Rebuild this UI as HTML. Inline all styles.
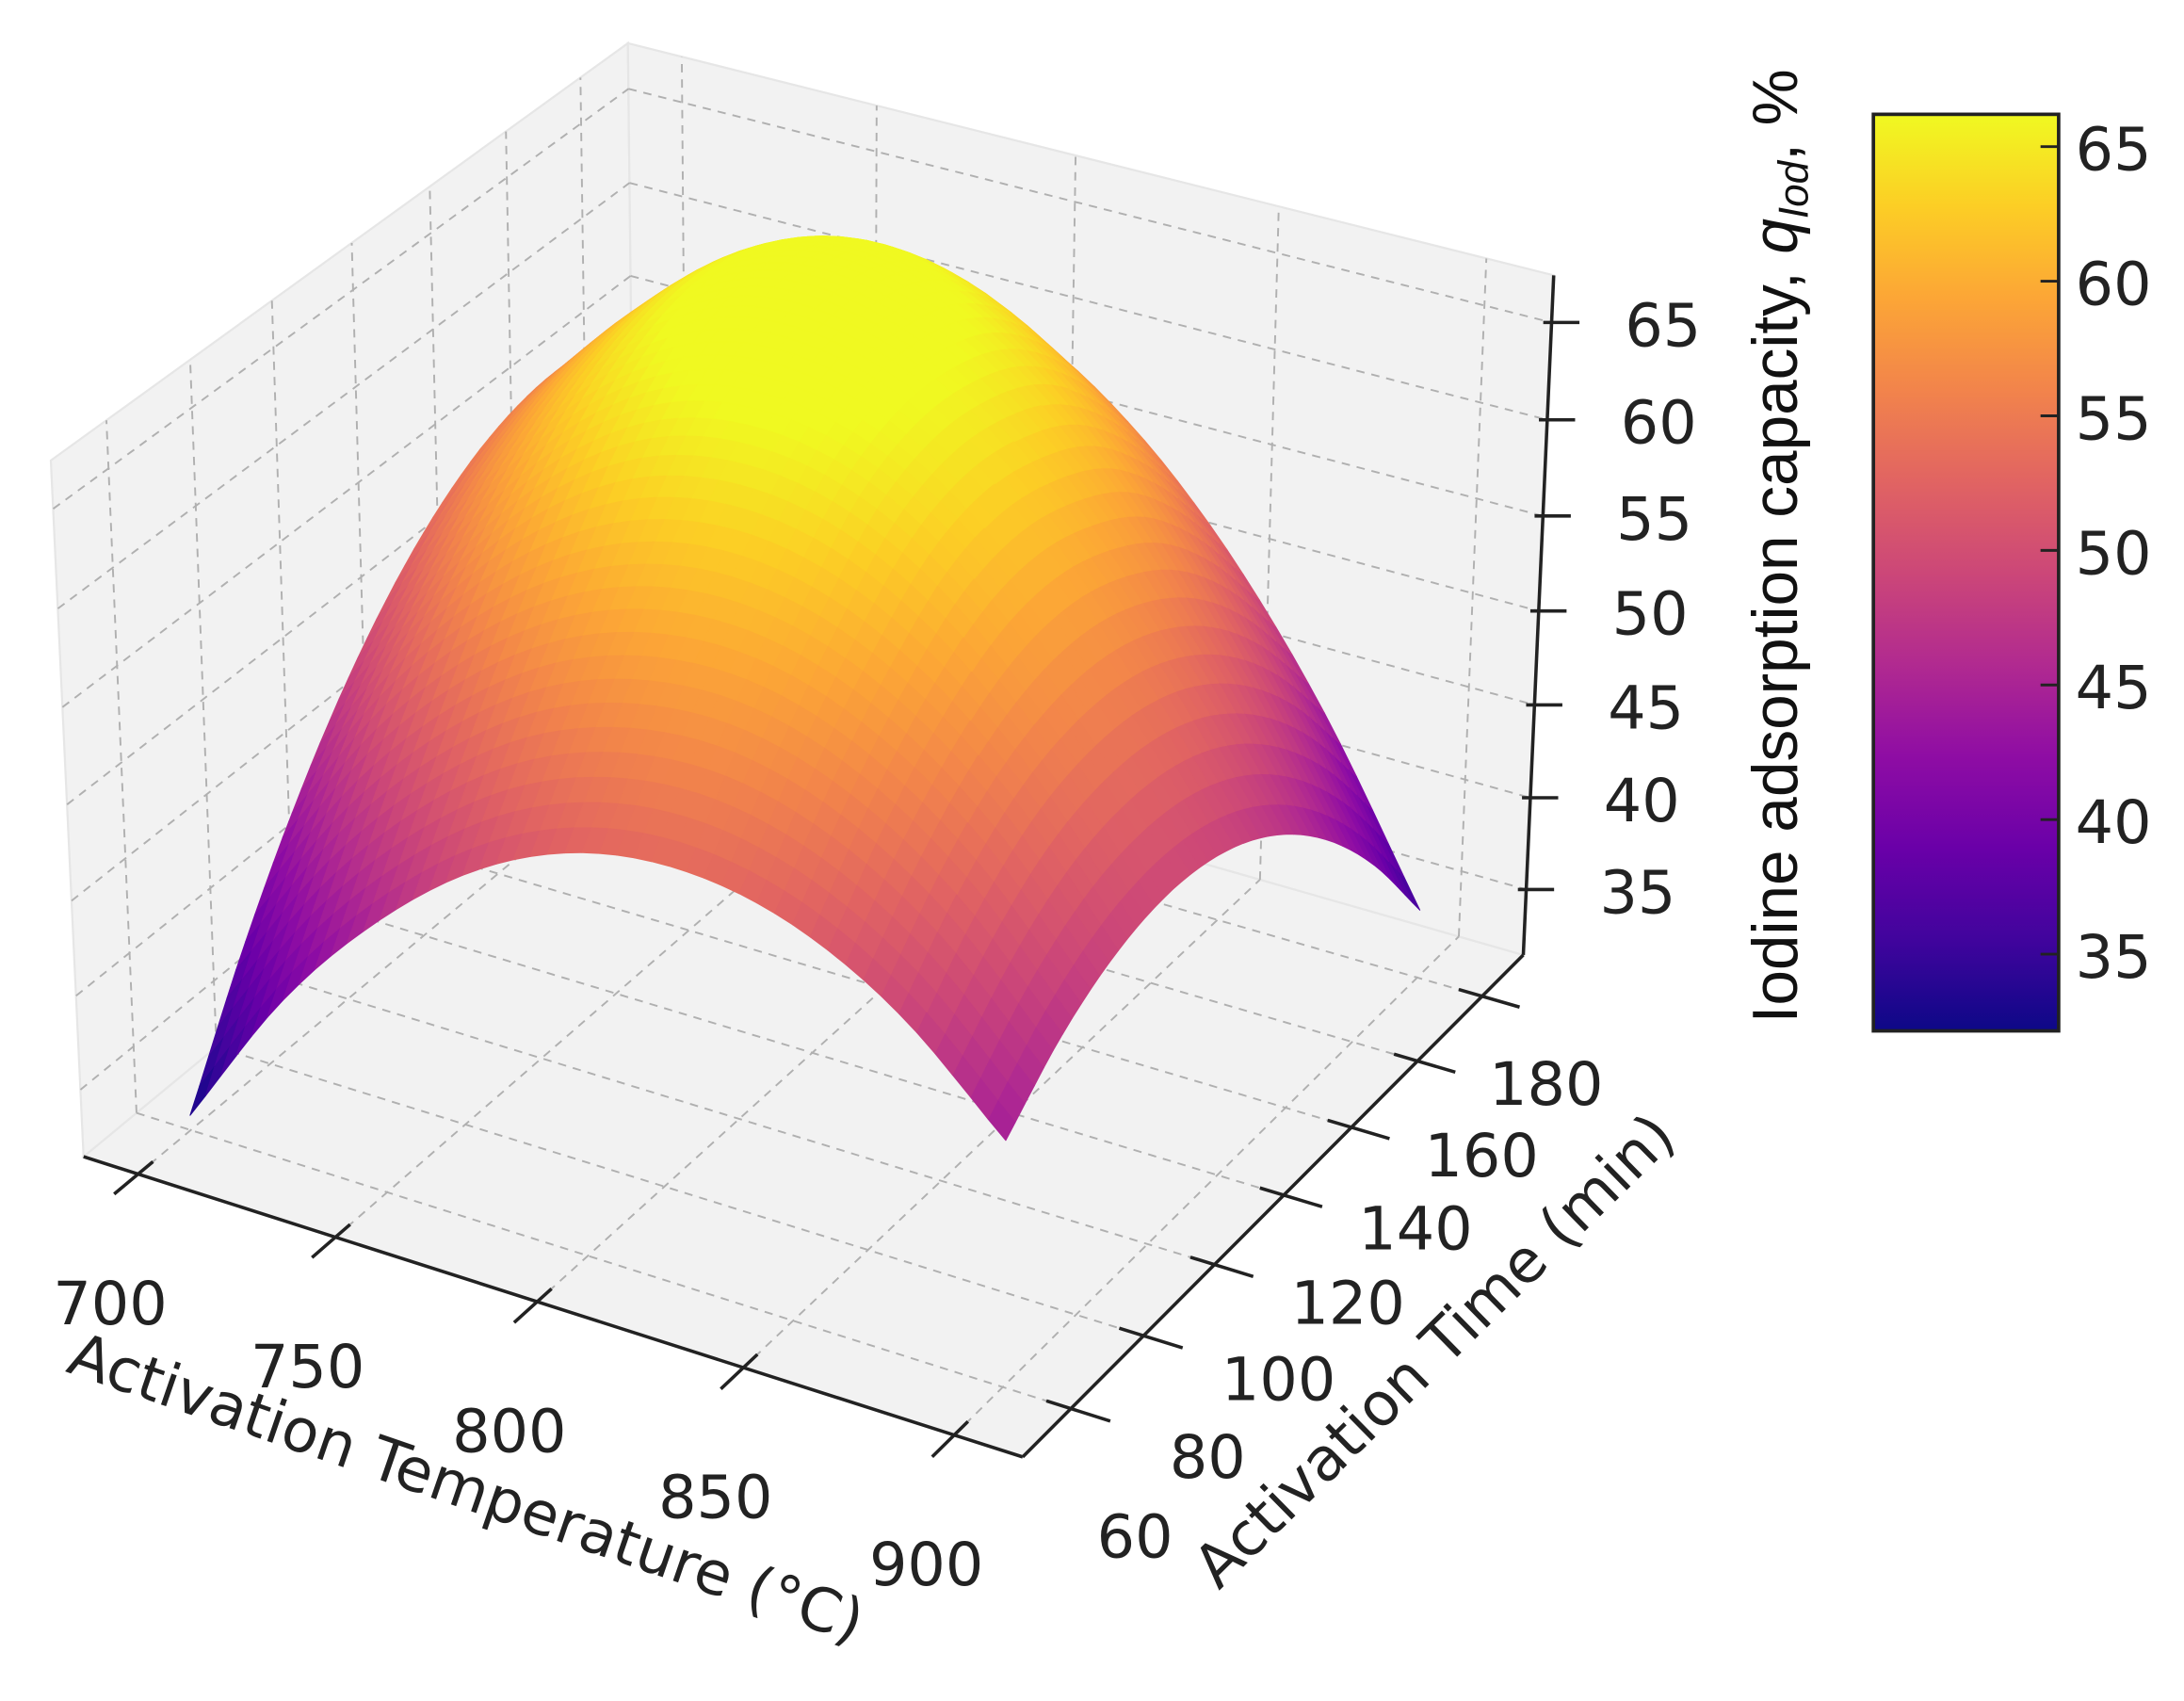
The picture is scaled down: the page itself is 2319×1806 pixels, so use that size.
<!DOCTYPE html>
<html><head><meta charset="utf-8"><style>
html,body{margin:0;padding:0;background:#fff;}
svg{display:block;}
.tk{font-family:"DejaVu Sans","Liberation Sans",sans-serif;font-size:43px;fill:#222;}
</style></head><body>
<svg id="chart" width="2319" height="1806" viewBox="0 0 1568 1221" xmlns="http://www.w3.org/2000/svg">
<defs>
<linearGradient id="cbgrad" x1="0" y1="1" x2="0" y2="0">
<stop offset="0" stop-color="#0d0887"/><stop offset="0.1" stop-color="#41049d"/><stop offset="0.2" stop-color="#6a00a8"/><stop offset="0.3" stop-color="#8f0da4"/><stop offset="0.4" stop-color="#b12a90"/><stop offset="0.5" stop-color="#cc4778"/><stop offset="0.6" stop-color="#e16462"/><stop offset="0.7" stop-color="#f2844b"/><stop offset="0.8" stop-color="#fca636"/><stop offset="0.9" stop-color="#fcce25"/><stop offset="1" stop-color="#f0f921"/>
</linearGradient>
</defs>
<g id="panes"></g>
<g id="grid"></g>
<g id="axes"></g>
<g id="surface"></g>
<g id="labels"></g>
<text class="tk" font-size="42" text-anchor="middle" transform="translate(330,1082) rotate(19)">Activation Temperature (°C)</text>
<text class="tk" font-size="42" text-anchor="middle" transform="translate(1040,980) rotate(-44.5)">Activation Time (min)</text>
<text font-family="Liberation Sans Narrow, Liberation Sans, sans-serif" font-size="46" fill="#111" text-anchor="middle" textLength="685" lengthAdjust="spacingAndGlyphs" transform="translate(1290,392) rotate(-90)">Iodine adsorption capacity, <tspan font-style="italic">q</tspan><tspan font-style="italic" font-size="30" dy="8">Iod</tspan><tspan dy="-8">, %</tspan></text>
<g>
<rect x="1345" y="82" width="133" height="658" fill="url(#cbgrad)" stroke="#222" stroke-width="2.5"/>
<g id="cbticks"></g>
</g>
</svg>
<script>
const T_VALUES=[700,725,750,775,800,825,850,875,900];
const TIME_VALUES=[60,75,90,105,120,135,150,165,180];
const Z_ROW_60=[32.2,40.0,45.8,50.0,52.4,53.0,51.9,49.0,44.2];
const Z_ROW_75=[38.88,46.2,51.7,55.5,57.4,57.6,55.9,52.4,46.93];
const Z_ROW_90=[44.46,51.67,56.96,60.34,61.81,61.37,59.01,54.74,48.56];
const Z_ROW_105=[48.94,55.65,61.2,64.6,65.6,64.5,61.2,55.76,49.09];
const Z_ROW_120=[52.3,58.8,64.2,67.2,67.6,65.8,61.8,55.67,48.5];
const Z_ROW_135=[54.56,60.6,65.6,68.2,68.0,65.6,61.0,54.47,46.81];
const Z_ROW_150=[55.71,61.2,65.6,67.8,67.2,64.2,59.2,52.17,44.01];
const Z_ROW_165=[55.76,60.6,64.2,65.6,64.6,61.2,55.9,48.76,40.11];
const Z_ROW_180=[54.7,58.94,61.28,61.69,60.2,56.79,51.48,44.24,35.1];
const Z_GRID=[Z_ROW_60,Z_ROW_75,Z_ROW_90,Z_ROW_105,Z_ROW_120,Z_ROW_135,Z_ROW_150,Z_ROW_165,Z_ROW_180];
const T_TICKS=[700,750,800,850,900];
const TIME_TICKS=[60,80,100,120,140,160,180];
const Z_TICKS=[35,40,45,50,55,60,65];
const CB_TICKS=[35,40,45,50,55,60,65];
const TLIM=[686,916], TIMELIM=[47,193], ZLIM=[31.4,67.4], CLIM=[32.15,66.2];

const NS='http://www.w3.org/2000/svg';
function mk(tag,attrs,parent){const e=document.createElementNS(NS,tag);for(const k in attrs)e.setAttribute(k,attrs[k]);parent.appendChild(e);return e;}
function proj(T,t,z){
  const X=(T-TLIM[0])/(TLIM[1]-TLIM[0])*1.143, Y=(t-TIMELIM[0])/(TIMELIM[1]-TIMELIM[0])*1.143, Z=(z-ZLIM[0])/(ZLIM[1]-ZLIM[0])*0.857;
  const dx=X-0.5715, dy=Y-0.5715, dz=Z-0.4285;
  const r=0.866*dx+0.5*dy, u=-0.25*dx+0.433*dy+0.866*dz, d=0.433*dx-0.75*dy+0.5*dz;
  return [586+6760*r/(10-d), 515-6650*u/(10-d), d];
}
const PL=[[13,8,135],[65,4,157],[106,0,168],[143,13,164],[177,42,144],[204,71,120],[225,100,98],[242,132,75],[252,166,54],[252,206,37],[240,249,33]];
function plasma(v){let s=Math.max(0,Math.min(1,(v-CLIM[0])/(CLIM[1]-CLIM[0])))*10;const i=Math.min(9,Math.floor(s)),f=s-i;const a=PL[i],b=PL[i+1];return 'rgb('+a.map((c,k)=>Math.round(c+(b[k]-c)*f)).join(',')+')';}
function pts(arr){return arr.map(p=>p[0].toFixed(1)+','+p[1].toFixed(1)).join(' ');}

const gP=document.getElementById('panes');
const tl=TLIM, ml=TIMELIM, zl=ZLIM;
const floor=[proj(tl[0],ml[0],zl[0]),proj(tl[1],ml[0],zl[0]),proj(tl[1],ml[1],zl[0]),proj(tl[0],ml[1],zl[0])];
const left=[proj(tl[0],ml[0],zl[0]),proj(tl[0],ml[1],zl[0]),proj(tl[0],ml[1],zl[1]),proj(tl[0],ml[0],zl[1])];
const back=[proj(tl[0],ml[1],zl[0]),proj(tl[1],ml[1],zl[0]),proj(tl[1],ml[1],zl[1]),proj(tl[0],ml[1],zl[1])];
[[floor,'floor-pane'],[left,'left-pane'],[back,'back-pane']].forEach(([p,n])=>{
  const e=mk('polygon',{points:pts(p),fill:'#f2f2f2',stroke:'#e6e6e6','stroke-width':1.5},gP);
  
  
});
const gG=document.getElementById('grid');
function gl(a,b,name){const e=mk('line',{x1:a[0],y1:a[1],x2:b[0],y2:b[1],stroke:'#b0b0b0','stroke-width':1.3,'stroke-dasharray':'6,5'},gG);
  
  }
T_TICKS.forEach(T=>{gl(proj(T,ml[0],zl[0]),proj(T,ml[1],zl[0]),'grid-temperature');gl(proj(T,ml[1],zl[0]),proj(T,ml[1],zl[1]),'grid-temperature');});
TIME_TICKS.forEach(t=>{gl(proj(tl[0],t,zl[0]),proj(tl[1],t,zl[0]),'grid-time');gl(proj(tl[0],t,zl[0]),proj(tl[0],t,zl[1]),'grid-time');});
Z_TICKS.forEach(z=>{gl(proj(tl[0],ml[0],z),proj(tl[0],ml[1],z),'grid-z');gl(proj(tl[0],ml[1],z),proj(tl[1],ml[1],z),'grid-z');});
const gA=document.getElementById('axes');
function al(a,b,name){const e=mk('line',{x1:a[0],y1:a[1],x2:b[0],y2:b[1],stroke:'#222','stroke-width':2.4},gA);
  
  }
al(proj(tl[0],ml[0],zl[0]),proj(tl[1],ml[0],zl[0]),'x-axis-line');
al(proj(tl[1],ml[0],zl[0]),proj(tl[1],ml[1],zl[0]),'y-axis-line');
al(proj(tl[1],ml[1],zl[0]),proj(tl[1],ml[1],zl[1]),'z-axis-line');
const gL=document.getElementById('labels');
const TR=tl[1]-tl[0], MR=ml[1]-ml[0];
T_TICKS.forEach(T=>{
  al(proj(T,ml[0]+0.025*MR,zl[0]),proj(T,ml[0]-0.04*MR,zl[0]),'x-tick');
  const p=proj(T,ml[0],zl[0]);
  const e=mk('text',{x:p[0]-20,y:p[1]+93,'text-anchor':'middle','dominant-baseline':'central',class:'tk'},gL);e.textContent=T;
  
  
});
TIME_TICKS.forEach((t,i)=>{
  al(proj(tl[1]-0.025*TR,t,zl[0]),proj(tl[1]+0.04*TR,t,zl[0]),'y-tick');
  const p=proj(tl[1],t,zl[0]);const f=i/(TIME_TICKS.length-1);
  const e=mk('text',{x:p[0]+46,y:p[1]+92-29*f,'text-anchor':'middle','dominant-baseline':'central',class:'tk'},gL);e.textContent=t;
  
  
});
Z_TICKS.forEach(z=>{
  const p=proj(tl[1],ml[1],z);
  al([p[0]-6,p[1]],[p[0]+20,p[1]],'z-tick');
  const e=mk('text',{x:p[0]+80,y:p[1]+2,'text-anchor':'middle','dominant-baseline':'central',class:'tk'},gL);e.textContent=z;
  
  
});
function cr(p0,p1,p2,p3,s){return 0.5*((2*p1)+(-p0+p2)*s+(2*p0-5*p1+4*p2-p3)*s*s+(-p0+3*p1-3*p2+p3)*s*s*s);}
function g(i,j){const n=Z_GRID.length,m=Z_GRID[0].length;
  let ci=Math.max(0,Math.min(n-1,i)),cj=Math.max(0,Math.min(m-1,j));
  let v=Z_GRID[ci][cj];
  if(i<0)v=2*Z_GRID[0][cj]-Z_GRID[1][cj]; if(i>n-1)v=2*Z_GRID[n-1][cj]-Z_GRID[n-2][cj];
  if(j<0)v=2*Z_GRID[ci][0]-Z_GRID[ci][1]; if(j>m-1)v=2*Z_GRID[ci][m-1]-Z_GRID[ci][m-2];
  return v;}
function zAt(fi,fj){const i=Math.min(Math.floor(fi),Z_GRID.length-2),j=Math.min(Math.floor(fj),Z_GRID[0].length-2);const si=fi-i,sj=fj-j;
  const rows=[-1,0,1,2].map(a=>cr(g(i+a,j-1),g(i+a,j),g(i+a,j+1),g(i+a,j+2),sj));
  return cr(rows[0],rows[1],rows[2],rows[3],si);}
const SUB=6, NI=(TIME_VALUES.length-1)*SUB, NJ=(T_VALUES.length-1)*SUB;
const P=[];
for(let a=0;a<=NI;a++){P.push([]);for(let b=0;b<=NJ;b++){
  const fi=a/SUB,fj=b/SUB;const z=zAt(fi,fj);
  const ii=Math.min(Math.floor(fi),TIME_VALUES.length-2),jj=Math.min(Math.floor(fj),T_VALUES.length-2);
  const t=TIME_VALUES[ii]+(TIME_VALUES[ii+1]-TIME_VALUES[ii])*(fi-ii);
  const T=T_VALUES[jj]+(T_VALUES[jj+1]-T_VALUES[jj])*(fj-jj);
  const p=proj(T,t,z);P[a].push([p[0],p[1],p[2],z]);}}
const quads=[];
for(let a=0;a<NI;a++)for(let b=0;b<NJ;b++){
  const q=[P[a][b],P[a][b+1],P[a+1][b+1],P[a+1][b]];
  quads.push({q,d:(q[0][2]+q[1][2]+q[2][2]+q[3][2])/4,z:(q[0][3]+q[1][3]+q[2][3]+q[3][3])/4});}
quads.sort((x,y)=>x.d-y.d);
const gS=document.getElementById('surface');
quads.forEach(o=>{const c=plasma(o.z);
  const e=mk('polygon',{points:pts(o.q),fill:c,stroke:c,'stroke-width':0.7,'stroke-linejoin':'round'},gS);
  
  
});
const gC=document.getElementById('cbticks');
CB_TICKS.forEach(v=>{const y=740-(v-CLIM[0])/(CLIM[1]-CLIM[0])*658;
  const l=mk('line',{x1:1465,y1:y,x2:1478,y2:y,stroke:'#222','stroke-width':2},gC);
  
  
  const e=mk('text',{x:1490,y:y+2,'dominant-baseline':'central',class:'tk'},gC);e.textContent=v;
  
  
});
</script>
</body></html>
